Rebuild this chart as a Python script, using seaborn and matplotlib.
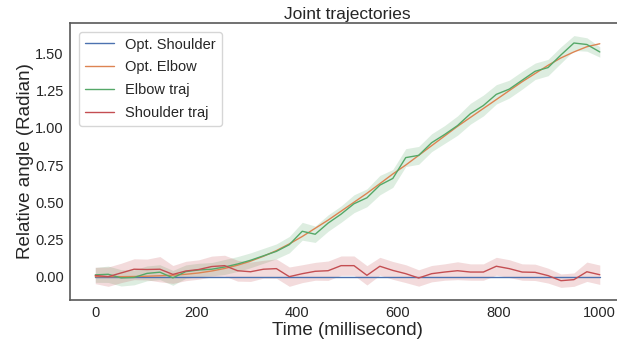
import numpy as np
import pandas as pd
import seaborn as sns
import matplotlib
matplotlib.use("Agg")
import matplotlib.pyplot as plt
from matplotlib.ticker import FormatStrFormatter

# Time axis: 40 samples over one second
time_ms = np.linspace(0, 1000, 40)

# Optimal joint angles (radian)
opt_shoulder = [0.0] * 40
opt_elbow = [
    0.000, 0.000, 0.000, 0.001, 0.003, 0.006, 0.010, 0.016, 0.025, 0.038,
    0.055, 0.077, 0.104, 0.137, 0.175, 0.220, 0.270, 0.325, 0.380, 0.440,
    0.500, 0.560, 0.625, 0.690, 0.750, 0.815, 0.880, 0.945, 1.010, 1.070,
    1.130, 1.190, 1.250, 1.310, 1.365, 1.420, 1.470, 1.510, 1.545, 1.565,
]

# Measured elbow trajectory: mean and half-width of the shaded band
elbow_traj = [
    0.012, 0.016, -0.008, -0.005, 0.022, 0.030, -0.008, 0.034, 0.045, 0.050,
    0.065, 0.085, 0.110, 0.140, 0.170, 0.215, 0.305, 0.285, 0.360, 0.420,
    0.490, 0.530, 0.615, 0.660, 0.800, 0.815, 0.900, 0.955, 1.015, 1.095,
    1.150, 1.225, 1.260, 1.320, 1.380, 1.405, 1.490, 1.570, 1.560, 1.510,
]
elbow_band = [
    0.050, 0.055, 0.055, 0.050, 0.050, 0.050, 0.050, 0.045, 0.045, 0.045,
    0.050, 0.050, 0.050, 0.050, 0.050, 0.055, 0.060, 0.055, 0.055, 0.055,
    0.060, 0.060, 0.065, 0.060, 0.060, 0.060, 0.060, 0.060, 0.065, 0.070,
    0.070, 0.065, 0.060, 0.060, 0.055, 0.055, 0.055, 0.050, 0.045, 0.035,
]

# Measured shoulder trajectory: mean and half-width of the shaded band
shoulder_traj = [
    0.008, 0.000, 0.025, 0.050, 0.048, 0.050, 0.015, 0.038, 0.048, 0.068,
    0.074, 0.040, 0.033, 0.050, 0.054, 0.000, 0.020, 0.036, 0.040, 0.074,
    0.074, 0.009, 0.070, 0.042, 0.020, -0.009, 0.020, 0.031, 0.040, 0.031,
    0.031, 0.070, 0.054, 0.031, 0.029, 0.007, -0.027, -0.020, 0.033, 0.013,
]
shoulder_band = [
    0.055, 0.065, 0.065, 0.070, 0.070, 0.085, 0.060, 0.065, 0.065, 0.070,
    0.070, 0.070, 0.065, 0.060, 0.065, 0.065, 0.060, 0.060, 0.065, 0.065,
    0.065, 0.065, 0.060, 0.060, 0.060, 0.055, 0.055, 0.055, 0.060, 0.055,
    0.055, 0.060, 0.060, 0.055, 0.055, 0.050, 0.045, 0.045, 0.065, 0.065,
]

series_names = ["Opt. Shoulder", "Opt. Elbow", "Elbow traj", "Shoulder traj"]
x_ticks = [0, 200, 400, 600, 800, 1000]
y_ticks = [0.0, 0.25, 0.5, 0.75, 1.0, 1.25, 1.5]

sns.set_theme(style="white")
plt.rcParams["font.family"] = ["Liberation Sans", "DejaVu Sans"]
palette = sns.color_palette("deep")

fig = plt.figure(figsize=(6.17, 3.44), dpi=100)
ax = fig.add_axes([0.1135, 0.1280, 0.8995, 0.8052])

series = [
    (opt_shoulder, None, palette[0]),
    (opt_elbow, None, palette[1]),
    (elbow_traj, elbow_band, palette[2]),
    (shoulder_traj, shoulder_band, palette[3]),
]
for name, (mean, band, color) in zip(series_names, series):
    mean = np.asarray(mean)
    sns.lineplot(x=time_ms, y=mean, ax=ax, color=color, linewidth=1.0, label=name)
    if band is not None:
        band = np.asarray(band)
        ax.fill_between(time_ms, mean - band, mean + band, color=color,
                        alpha=0.2, linewidth=0)

for spine in ax.spines.values():
    spine.set_color("0.35")
    spine.set_linewidth(1.2)

ax.set_title("Joint trajectories", fontsize=12.5, pad=3)
ax.set_xlabel("Time (millisecond)", fontsize=13.5, labelpad=1)
ax.set_ylabel("Relative angle (Radian)", fontsize=13.5, labelpad=1)
ax.tick_params(axis="both", labelsize=10.5, length=0, pad=4.5)
ax.set_xticks(x_ticks)
ax.set_yticks(y_ticks)
ax.yaxis.set_major_formatter(FormatStrFormatter("%.2f"))
ax.legend(loc="upper left", fontsize=10.5, labelspacing=0.6,
          borderaxespad=0.6)

fig.savefig("out.png", dpi=100)
